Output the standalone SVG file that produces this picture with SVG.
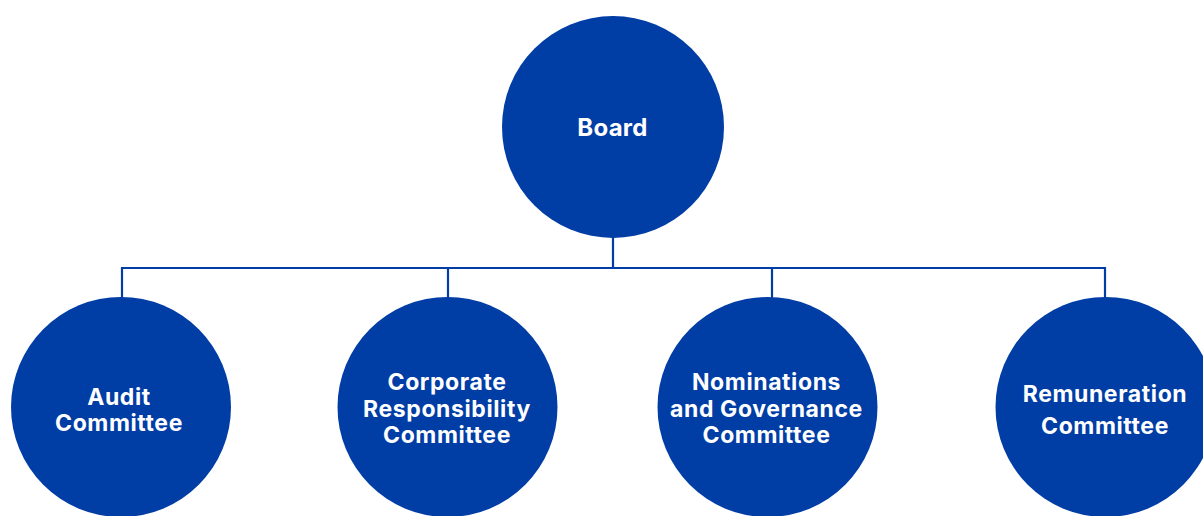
<svg xmlns="http://www.w3.org/2000/svg" width="1203" height="516" viewBox="0 0 1203 516">
  <style>
    .node { fill: #003da5; }
    .label { fill: #ffffff; font-family: Inter, "Open Sans", "Liberation Sans", sans-serif; font-weight: 700; font-size: 23px; letter-spacing: 0.6px; text-anchor: middle; }
    .title { font-size: 24px; letter-spacing: 0.3px; }
    .link { fill: none; stroke: #003da5; stroke-width: 2.2; }
  </style>
  <rect width="1203" height="516" fill="#ffffff"/>

  <!-- connectors: trunk from the Board, bus bar, drops to each committee -->
  <g id="connectors">
    <path class="link" d="M613,236 V268"/>
    <path class="link" d="M122,298 V268 H1105 V298"/>
    <path class="link" d="M448,268 V298"/>
    <path class="link" d="M772,268 V298"/>
  </g>

  <g id="board">
    <circle class="node" cx="613" cy="127" r="111"/>
    <text class="label title" x="612.5" y="136">Board</text>
  </g>

  <g id="audit">
    <circle class="node" cx="121" cy="407" r="110"/>
    <text class="label" x="119" y="405">Audit</text>
    <text class="label" x="119" y="431">Committee</text>
  </g>

  <g id="corporate-responsibility">
    <circle class="node" cx="447.5" cy="407" r="110"/>
    <text class="label" x="447" y="390">Corporate</text>
    <text class="label" x="447" y="416.5">Responsibility</text>
    <text class="label" x="447" y="442.5">Committee</text>
  </g>

  <g id="nominations-governance">
    <circle class="node" cx="767.5" cy="407" r="110"/>
    <text class="label" x="766.5" y="390">Nominations</text>
    <text class="label" x="766.5" y="416.5">and Governance</text>
    <text class="label" x="766.5" y="442.5">Committee</text>
  </g>

  <g id="remuneration">
    <circle class="node" cx="1105.5" cy="407" r="110"/>
    <text class="label" x="1105" y="401.5">Remuneration</text>
    <text class="label" x="1105" y="434">Committee</text>
  </g>
</svg>
